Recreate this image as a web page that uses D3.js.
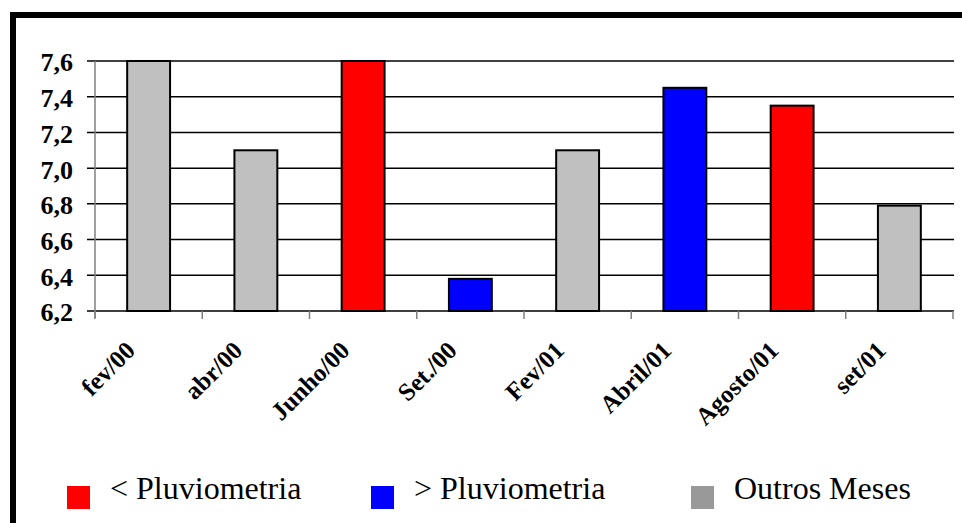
<!DOCTYPE html>
<html>
<head>
<meta charset="utf-8">
<script src="https://cdn.jsdelivr.net/npm/d3@7"></script>
<style>
  html, body { margin: 0; padding: 0; background: #fff; }
  svg { display: block; }
  svg text { font-family: "Liberation Serif", Tinos, "Times New Roman", Times, serif; }
</style>
</head>
<body>
<svg id="chart" width="962" height="523"></svg>
<script>
// pH by sampling month, grouped by rainfall condition
const categories = ["fev/00", "abr/00", "Junho/00", "Set./00", "Fev/01", "Abril/01", "Agosto/01", "set/01"];
const values     = [7.6, 7.1, 7.6, 6.38, 7.1, 7.45, 7.35, 6.79];
const groups     = ["outros", "outros", "menor", "maior", "outros", "maior", "menor", "outros"];
const yTicks     = [6.2, 6.4, 6.6, 6.8, 7.0, 7.2, 7.4, 7.6];
const legendKeys   = ["menor", "maior", "outros"];
const legendLabels = ["< Pluviometria", "> Pluviometria", "Outros Meses"];

const barFill    = { menor: "#ff0000", maior: "#0000ff", outros: "#c0c0c0" };
const legendFill = { menor: "#ff0000", maior: "#0000ff", outros: "#999999" };

const svg = d3.select("#chart");

// outer frame (runs off the right and bottom edges)
svg.append("rect")
  .attr("x", 13).attr("y", 15)
  .attr("width", 1000).attr("height", 600)
  .attr("fill", "none").attr("stroke", "#000").attr("stroke-width", 6);

const x = d3.scaleBand().domain(categories).range([95, 953]);
const y = d3.scaleLinear().domain([6.2, 7.6]).range([311, 61]);
const bw = x.bandwidth() * 0.4;

// horizontal gridlines
svg.append("g").selectAll("line").data(yTicks).join("line")
  .attr("x1", 87).attr("x2", 954)
  .attr("y1", d => y(d)).attr("y2", d => y(d))
  .attr("stroke", "#000").attr("stroke-width", 1.5);

// y axis with comma decimals
const yAxis = d3.axisLeft(y)
  .tickValues(yTicks)
  .tickSize(0)
  .tickPadding(22)
  .tickFormat(d => d3.format(".1f")(d).replace(".", ","));
const gy = svg.append("g").attr("transform", "translate(95,0)").call(yAxis);
gy.select(".domain").remove();
gy.attr("font-family", null).attr("font-size", null);
gy.selectAll("text")
  .attr("dy", "0.38em")
  .style("font-weight", "bold")
  .style("font-size", "26px")
  .attr("fill", "#000");

// vertical axis line
svg.append("line")
  .attr("x1", 95).attr("x2", 95)
  .attr("y1", y(7.6)).attr("y2", 318)
  .attr("stroke", "#808080").attr("stroke-width", 1.5);

// category tick marks at band boundaries
const bounds = categories.map(c => x(c)).concat([x.range()[1]]);
svg.append("g").selectAll("line").data(bounds).join("line")
  .attr("x1", d => d).attr("x2", d => d)
  .attr("y1", y(6.2)).attr("y2", 319)
  .attr("stroke", "#808080").attr("stroke-width", 1.5);

// bars
svg.append("g").selectAll("rect").data(categories).join("rect")
  .attr("x", c => x(c) + x.bandwidth() / 2 - bw / 2)
  .attr("width", bw)
  .attr("y", (c, i) => y(values[i]))
  .attr("height", (c, i) => y(6.2) - y(values[i]))
  .attr("fill", (c, i) => barFill[groups[i]])
  .attr("stroke", "#000").attr("stroke-width", 2);

// rotated category labels
svg.append("g").selectAll("text").data(categories).join("text")
  .attr("transform", c => `translate(${x(c) + x.bandwidth() / 2 - 12},352) rotate(-45)`)
  .attr("text-anchor", "end")
  .style("font-weight", "bold")
  .style("font-size", "25px")
  .text(c => c);

// legend
const legendX = [67, 371, 691];
const lg = svg.append("g").selectAll("g").data(legendKeys).join("g")
  .attr("transform", (k, i) => `translate(${legendX[i]},486)`);
lg.append("rect")
  .attr("width", 23).attr("height", 23)
  .attr("fill", k => legendFill[k]);
lg.append("text")
  .attr("x", 43).attr("y", 13)
  .style("font-size", "32px")
  .text((k, i) => legendLabels[i]);
</script>
</body>
</html>
